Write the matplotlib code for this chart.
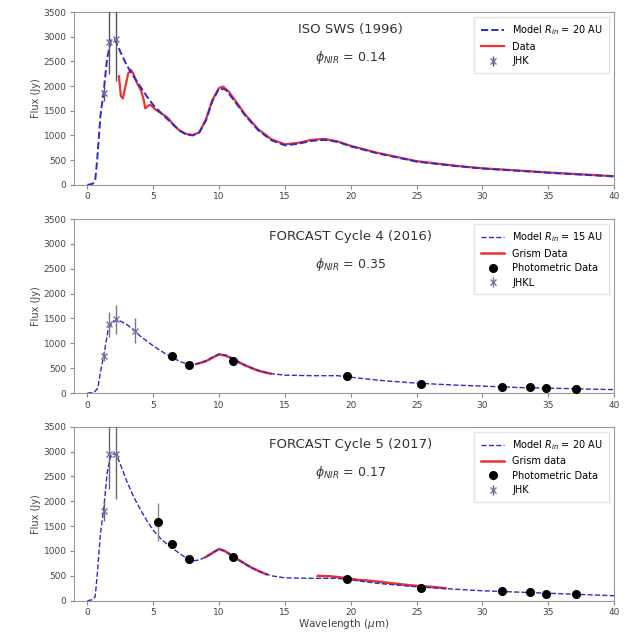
import matplotlib.pyplot as plt
import numpy as np

# ---- Panel 1: ISO SWS (1996) ----
model1_wl = [0, 0.4, 0.6, 0.75, 1.0, 1.25, 1.5, 1.8, 2.1, 2.5, 3.0, 3.5, 4.0, 4.5, 5.0, 6.0,
             7.0, 7.5, 8.0, 8.5, 9.0, 9.5, 10.0, 10.5, 11.0, 12.0, 13.0, 14.0, 15.0,
             16.0, 17.0, 18.0, 19.0, 20.0, 22.0, 25.0, 28.0, 30.0, 33.0, 35.0, 38.0, 40.0]
model1_flux = [0, 20, 80, 500, 1400, 1900, 2550, 2930, 2950, 2700, 2420, 2200, 2000, 1800,
               1620, 1350, 1100, 1020, 1000, 1060, 1300, 1700, 1950, 1930, 1760, 1400,
               1100, 900, 800, 830, 890, 910, 870, 780, 640, 470, 380, 330, 280, 245, 200, 170]

data1_wl = [2.4, 2.55, 2.7, 2.9, 3.1, 3.3, 3.5, 3.8, 4.1, 4.3, 4.4, 4.6, 4.8, 5.2, 5.6,
            6.0, 6.2, 6.6, 7.0, 7.5, 8.0, 8.5, 9.0, 9.5, 10.0, 10.3, 10.7, 11.2, 12.0,
            13.0, 14.0, 15.0, 16.0, 17.0, 18.0, 19.0, 20.0, 22.0, 25.0, 28.0, 30.0,
            33.0, 35.0, 38.0, 40.0]
data1_flux = [2200, 1800, 1750, 2000, 2250, 2330, 2250, 2050, 1900, 1700, 1550, 1600,
              1620, 1520, 1450, 1380, 1330, 1200, 1100, 1030, 1010, 1060, 1320, 1720,
              1960, 1990, 1900, 1720, 1420, 1120, 920, 820, 850, 910, 930, 880, 790,
              650, 480, 385, 335, 285, 250, 205, 175]

jhk1_wl = [1.25, 1.65, 2.2]
jhk1_flux = [1850, 2900, 2950]
jhk1_err = [150, 650, 850]

# ---- Panel 2: FORCAST Cycle 4 (2016) ----
model2_wl = [0, 0.5, 0.8, 1.0, 1.25, 1.6, 2.0, 2.5, 3.0, 3.5, 4.0, 5.0, 6.0, 7.0, 7.5,
             8.0, 8.5, 9.0, 9.5, 10.0, 10.5, 11.0, 12.0, 13.0, 14.0, 15.0, 17.0, 19.0,
             20.0, 22.0, 25.0, 28.0, 30.0, 33.0, 35.0, 38.0, 40.0]
model2_flux = [0, 10, 100, 420, 750, 1300, 1450, 1450, 1380, 1270, 1150, 950, 780, 640,
               590, 575, 600, 650, 720, 780, 760, 700, 560, 450, 390, 360, 350, 350,
               320, 260, 200, 160, 140, 110, 100, 80, 70]

grism2_wl = [8.3, 9.0, 9.5, 10.0, 10.5, 11.0, 11.5, 12.0, 12.5, 13.0, 13.5, 13.9]
grism2_flux = [585, 640, 710, 780, 755, 695, 620, 555, 500, 450, 415, 390]

phot2_wl = [6.4, 7.7, 11.1, 19.7, 25.3, 31.5, 33.6, 34.8, 37.1]
phot2_flux = [740, 570, 650, 350, 190, 130, 120, 110, 85]

jhkl2_wl = [1.25, 1.65, 2.2, 3.6]
jhkl2_flux = [750, 1380, 1480, 1250]
jhkl2_err = [100, 250, 300, 250]

# ---- Panel 3: FORCAST Cycle 5 (2017) ----
model3_wl = [0, 0.4, 0.6, 0.75, 1.0, 1.25, 1.5, 1.8, 2.2, 2.5, 3.0, 3.5, 4.0, 4.5, 5.0, 5.5,
             6.0, 7.0, 7.5, 8.0, 8.5, 9.0, 9.5, 10.0, 10.5, 11.0, 12.0, 13.0, 14.0, 15.0,
             17.0, 19.0, 20.0, 22.0, 25.0, 28.0, 30.0, 33.0, 35.0, 38.0, 40.0]
model3_flux = [0, 20, 80, 500, 1350, 1850, 2550, 2950, 2950, 2750, 2400, 2100, 1850, 1620,
               1420, 1270, 1150, 950, 860, 800, 820, 880, 960, 1040, 1000, 900, 730,
               590, 500, 460, 450, 450, 420, 350, 280, 230, 200, 170, 150, 120, 100]

grism3a_wl = [9.0, 9.5, 10.0, 10.5, 11.0, 11.5, 12.0, 12.5, 13.0, 13.6]
grism3a_flux = [880, 960, 1040, 990, 900, 820, 740, 660, 600, 530]
grism3b_wl = [17.5, 18.5, 19.5, 20.5, 21.5, 22.5, 23.5, 24.5, 25.5, 26.5, 27.2]
grism3b_flux = [500, 490, 460, 420, 400, 370, 340, 310, 290, 270, 250]

phot3_wl = [5.4, 6.4, 7.7, 11.1, 19.7, 25.3, 31.5, 33.6, 34.8, 37.1]
phot3_flux = [1590, 1150, 840, 880, 440, 260, 190, 170, 140, 130]
phot3_err = [380, 0, 0, 0, 0, 0, 0, 0, 0, 0]

jhk3_wl = [1.25, 1.65, 2.2]
jhk3_flux = [1800, 2950, 2950]
jhk3_err = [200, 700, 900]

titles = ["ISO SWS (1996)", "FORCAST Cycle 4 (2016)", "FORCAST Cycle 5 (2017)"]
phis = ["0.14", "0.35", "0.17"]

fig = plt.figure(figsize=(6.28, 6.33), dpi=100)
rects = [
    [0.118, 0.708, 0.860, 0.273],
    [0.118, 0.379, 0.860, 0.275],
    [0.118, 0.051, 0.860, 0.275],
]
axes = [fig.add_axes(r) for r in rects]

model_color = "#2b2bd0"
red = "#f03030"
jhk_color = "#7070a8"


def style_axis(ax):
    ax.set_xlim(-1, 40)
    ax.set_ylim(0, 3500)
    ax.set_yticks(np.arange(0, 3501, 500))
    ax.set_xticks(np.arange(0, 41, 5))
    ax.tick_params(labelsize=6.5, length=3, pad=2.5, color="#888888", labelcolor="#444444")
    for s in ax.spines.values():
        s.set_color("#999999")
    ax.set_ylabel("Flux (Jy)", fontsize=7, color="#444444", labelpad=2)


# Panel 1
ax = axes[0]
ax.plot(data1_wl, data1_flux, color=red, lw=1.6, label="Data", zorder=2)
ax.plot(model1_wl, model1_flux, "--", color=model_color, lw=1.4,
        label=r"Model $R_{in}$ = 20 AU", zorder=3)
ax.errorbar(jhk1_wl, jhk1_flux, yerr=jhk1_err, fmt="x", color=jhk_color, ms=4,
            ecolor="#555555", elinewidth=1, label="JHK", zorder=4)

# Panel 2
ax = axes[1]
ax.plot(grism2_wl, grism2_flux, color=red, lw=1.8, label="Grism Data", zorder=2)
ax.plot(model2_wl, model2_flux, "--", color=model_color, lw=1.0,
        label=r"Model $R_{in}$ = 15 AU", zorder=3)
ax.plot(phot2_wl, phot2_flux, "o", color="black", ms=5.5, label="Photometric Data", zorder=4)
ax.errorbar(jhkl2_wl, jhkl2_flux, yerr=jhkl2_err, fmt="x", color=jhk_color, ms=4,
            ecolor="#777777", elinewidth=1, label="JHKL", zorder=4)

# Panel 3
ax = axes[2]
ax.plot(grism3a_wl, grism3a_flux, color=red, lw=1.8, label="Grism data", zorder=2)
ax.plot(grism3b_wl, grism3b_flux, color=red, lw=1.8, zorder=2)
ax.plot(model3_wl, model3_flux, "--", color=model_color, lw=1.0,
        label=r"Model $R_{in}$ = 20 AU", zorder=3)
ax.errorbar(phot3_wl, phot3_flux, yerr=phot3_err, fmt="o", color="black", ms=5.5,
            ecolor="#888888", elinewidth=1, label="Photometric Data", zorder=4)
ax.errorbar(jhk3_wl, jhk3_flux, yerr=jhk3_err, fmt="x", color=jhk_color, ms=4,
            ecolor="#666666", elinewidth=1, label="JHK", zorder=4)
ax.set_xlabel(r"Wavelength ($\mu$m)", fontsize=7.5, color="#444444")

for i, ax in enumerate(axes):
    style_axis(ax)
    handles, labels = ax.get_legend_handles_labels()
    # order: model, data, (photometric), JHK
    order = [1, 0] + list(range(2, len(handles)))
    ax.legend([handles[k] for k in order], [labels[k] for k in order],
              loc="upper right", fontsize=7, frameon=True, fancybox=False,
              framealpha=1, edgecolor="#e4e4e4", handlelength=2.4, borderpad=0.7,
              labelspacing=0.45)
    ax.text(20.0, 3140, titles[i], ha="center", va="center", fontsize=9.5, color="#333333")
    ax.text(20.0, 2580, r"$\phi_{NIR}$ = " + phis[i], ha="center", va="center",
            fontsize=9, color="#333333")

axes[2].xaxis.set_label_coords(0.5, -0.095)

fig.savefig("out.png", dpi=100)
